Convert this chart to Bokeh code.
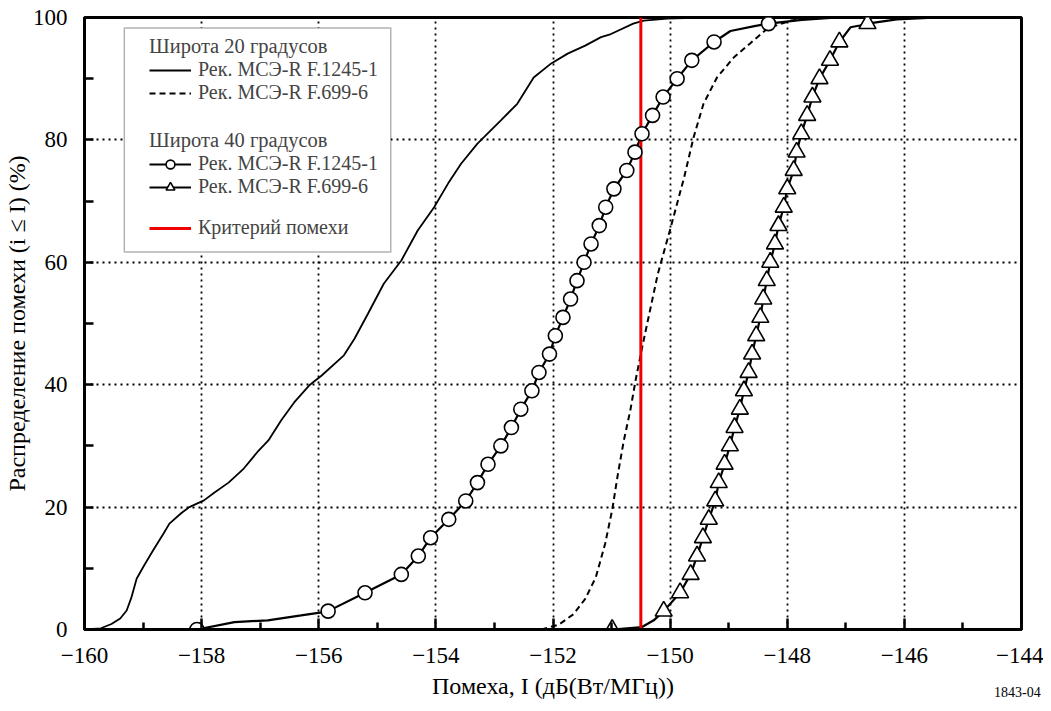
from bokeh.plotting import figure
from bokeh.models import (Legend, LegendItem, BoxAnnotation, FixedTicker, Range1d, LinearAxis)
from bokeh.embed import file_html
from bokeh.resources import INLINE

# ---------------- data ----------------
x_ticks = [-160, -158, -156, -154, -152, -150, -148, -146, -144]
x_minor = [-159, -157, -155, -153, -151, -149, -147, -145]
y_ticks = [0, 20, 40, 60, 80, 100]
y_minor = [10, 30, 50, 70, 90]

# Latitude 20 deg, Rec. ITU-R F.1245-1 (solid)
lat20_f1245_x = [-160.00, -159.72, -159.54, -159.39, -159.28, -159.20, -159.11, -158.98, -158.83,
                 -158.65, -158.55, -158.35, -158.21, -157.96, -157.78, -157.54, -157.28, -157.03,
                 -156.86, -156.64, -156.42, -156.15, -155.95, -155.57, -155.39, -155.16, -154.89,
                 -154.59, -154.31, -154.03, -153.79, -153.57, -153.29, -152.89, -152.61, -152.33,
                 -152.03, -151.75, -151.45, -151.18, -151.01, -150.63, -150.45, -150.05, -149.47]
lat20_f1245_y = [0.0, 0.2, 0.9, 1.8, 3.1, 5.2, 8.3, 10.5, 12.9,
                 15.7, 17.3, 19.0, 20.0, 21.1, 22.4, 24.0, 26.3, 29.2,
                 30.9, 34.2, 37.1, 40.0, 41.5, 44.8, 47.5, 51.6, 56.5,
                 60.3, 65.2, 69.0, 72.9, 76.1, 79.4, 83.2, 85.9, 90.2,
                 92.5, 94.1, 95.4, 96.8, 97.3, 99.0, 99.5, 99.8, 100.0]

# Latitude 20 deg, Rec. ITU-R F.699-6 (dashed)
lat20_f699_x = [-152.20, -151.90, -151.65, -151.45, -151.27, -151.11, -150.99, -150.89, -150.79,
                -150.68, -150.59, -150.48, -150.38, -150.21, -149.99, -149.76, -149.60, -149.43,
                -149.20, -148.91, -148.63, -148.34, -147.94, -147.55, -147.14]
lat20_f699_y = [0.0, 0.8, 2.5, 5.0, 8.5, 14.0, 19.5, 25.5, 30.9,
                35.8, 40.7, 46.0, 50.5, 58.1, 65.7, 73.9, 80.4, 85.9,
                90.2, 93.5, 95.8, 98.2, 99.5, 99.9, 100.0]

# Latitude 40 deg, Rec. ITU-R F.1245-1 (line with circles)
lat40_f1245_mk_y = [0, 3, 6, 9, 12, 15, 18, 21, 24, 27, 30, 33, 36, 39, 42, 45, 48,
                    51, 54, 57, 60, 63, 66, 69, 72, 75, 78, 81, 84, 87, 90, 93, 96, 99]
lat40_f1245_mk_x = [-158.08, -155.84, -155.21, -154.59, -154.30, -154.09, -153.78, -153.49,
                    -153.29, -153.11, -152.89, -152.71, -152.55, -152.36, -152.24, -152.06,
                    -151.96, -151.83, -151.70, -151.59, -151.47, -151.35, -151.21, -151.10,
                    -150.96, -150.74, -150.60, -150.48, -150.30, -150.12, -149.88, -149.63,
                    -149.25, -148.32]
lat40_f1245_line_x = [-158.08, -157.44, -156.87, -156.30, -155.95] + lat40_f1245_mk_x[1:33] + \
                     [-148.97, -148.56, -148.32, -147.75, -147.14]
lat40_f1245_line_y = [0.0, 1.2, 1.5, 2.3, 2.8] + lat40_f1245_mk_y[1:33] + \
                     [97.8, 98.6, 99.0, 99.6, 100.0]

# Latitude 40 deg, Rec. ITU-R F.699-6 (line with triangles)
lat40_f699_mk_y = [0, 3, 6, 9, 12, 15, 18, 21, 24, 27, 30, 33, 36, 39, 42, 45, 48,
                   51, 54, 57, 60, 63, 66, 69, 72, 75, 78, 81, 84, 87, 90, 93, 96, 99]
lat40_f699_mk_x = [-150.99, -150.11, -149.83, -149.65, -149.54, -149.44, -149.34, -149.23,
                   -149.17, -149.07, -148.98, -148.90, -148.81, -148.74, -148.66, -148.60,
                   -148.53, -148.46, -148.41, -148.35, -148.29, -148.21, -148.15, -148.06,
                   -148.00, -147.89, -147.84, -147.76, -147.66, -147.57, -147.45, -147.27,
                   -147.11, -146.63]
lat40_f699_line_x = [-150.99, -150.48, -150.28] + lat40_f699_mk_x[1:33] + \
                    [-146.92, -146.76, -146.63, -146.13, -145.42]
lat40_f699_line_y = [0.0, 0.4, 1.5] + lat40_f699_mk_y[1:33] + \
                    [98.4, 98.7, 99.0, 99.7, 100.0]

# Interference criterion, dB(W/MHz)
criterion_db = -150.5
y_min, y_max = 0, 100
x_min, x_max = -160, -144

# figure number text, placed under the right end of the x axis
fig_number = "1843-04"
fig_number_pos = -144.07

FONT = "Liberation Serif"

p = figure(width=1043, height=703, output_backend="svg", toolbar_location=None,
           x_range=Range1d(x_min, x_max), y_range=Range1d(y_min, y_max),
           min_border_left=83, min_border_right=22, min_border_top=17, min_border_bottom=74)
p.background_fill_color = "white"
p.border_fill_color = "white"
p.outline_line_color = "black"
p.outline_line_width = 3

# axes
for ax in (p.xaxis[0], p.yaxis[0]):
    ax.axis_line_width = 3
    ax.axis_line_color = "black"
    ax.major_tick_out = 0
    ax.minor_tick_out = 0
    ax.major_tick_line_width = 2.5
    ax.minor_tick_line_width = 2.5
    ax.major_tick_line_color = "black"
    ax.minor_tick_line_color = "black"
    ax.major_label_text_font = FONT
    ax.major_label_text_font_size = "23px"
    ax.major_label_text_color = "black"
    ax.axis_label_text_font = FONT
    ax.axis_label_text_font_size = "24px"
    ax.axis_label_text_font_style = "normal"
    ax.axis_label_text_color = "black"

p.xaxis.ticker = FixedTicker(ticks=x_ticks, minor_ticks=x_minor)
p.yaxis.ticker = FixedTicker(ticks=y_ticks, minor_ticks=y_minor)
p.xaxis.major_label_overrides = {t: "\u2212" + str(abs(t)) for t in x_ticks}
p.xaxis.major_tick_in = 11
p.xaxis.minor_tick_in = 7
p.yaxis.major_tick_in = 9
p.yaxis.minor_tick_in = 9
p.xaxis.major_label_standoff = 18
p.yaxis.major_label_standoff = 17
p.xaxis.axis_label_standoff = 7
p.yaxis.axis_label_standoff = 0
p.xaxis.axis_label = "Помеха, I (дБ(Вт/МГц))"
p.yaxis.axis_label = "Распределение помехи (i ≤ I) (%)"

# second (invisible) axis carrying only the figure number, pulled up to the label row
num_axis = LinearAxis(ticker=FixedTicker(ticks=[fig_number_pos], minor_ticks=[]),
                      major_label_overrides={fig_number_pos: fig_number},
                      axis_line_alpha=0, major_tick_line_alpha=0, minor_tick_line_alpha=0,
                      major_tick_in=0, major_tick_out=0, minor_tick_in=0, minor_tick_out=0,
                      major_label_standoff=-15, major_label_text_font=FONT,
                      major_label_text_font_size="14px", major_label_text_color="black")
p.add_layout(num_axis, "below")

# grid
for g in (p.xgrid[0], p.ygrid[0]):
    g.grid_line_color = "black"
    g.grid_line_dash = "2 4"
    g.grid_line_width = 1.8

# curves
r20a = p.line(lat20_f1245_x, lat20_f1245_y, line_color="black", line_width=1.8)
r20b = p.line(lat20_f699_x, lat20_f699_y, line_color="black", line_width=2, line_dash="6 4")
r40a_l = p.line(lat40_f1245_line_x, lat40_f1245_line_y, line_color="black", line_width=2.2)
r40b_l = p.line(lat40_f699_line_x, lat40_f699_line_y, line_color="black", line_width=2.2)
r40b_m = p.scatter(lat40_f699_mk_x, lat40_f699_mk_y, marker="triangle", size=17,
                   fill_color="white", line_color="black", line_width=1.6)
rcrit = p.line([criterion_db, criterion_db], [y_min, y_max], line_color="#f00000", line_width=3)
r40a_m = p.scatter(lat40_f1245_mk_x, lat40_f1245_mk_y, marker="circle", size=14,
                   fill_color="white", line_color="black", line_width=1.6)

# legend frame
box = BoxAnnotation(left=-159.32, right=-154.77, bottom=61.68, top=98.28,
                    fill_color="white", fill_alpha=1.0, line_color="black", line_width=1.5)
p.add_layout(box)

def make_legend(items, loc, title=None):
    lg = Legend(items=items, location=loc, padding=0, spacing=0, margin=0,
                glyph_width=42, glyph_height=22, label_height=20, label_standoff=7,
                label_text_font=FONT, label_text_font_size="20px",
                border_line_alpha=0, background_fill_alpha=0,
                title_standoff=0, title_text_font=FONT, title_text_font_size="20.5px",
                title_text_font_style="normal")
    if title:
        lg.title = title
    return lg

leg_a = make_legend([LegendItem(label="Рек. МСЭ-R F.1245-1", renderers=[r20a]),
                     LegendItem(label="Рек. МСЭ-R F.699-6", renderers=[r20b])],
                    (65, 525), "Широта 20 градусов")
leg_b = make_legend([LegendItem(label="Рек. МСЭ-R F.1245-1", renderers=[r40a_l, r40a_m]),
                     LegendItem(label="Рек. МСЭ-R F.699-6", renderers=[r40b_l, r40b_m])],
                    (65, 431), "Широта 40 градусов")
leg_c = make_legend([LegendItem(label="Критерий помехи", renderers=[rcrit])], (65, 390))
for lg in (leg_a, leg_b, leg_c):
    p.add_layout(lg)

open("out.html", "w").write(file_html(p, INLINE))
